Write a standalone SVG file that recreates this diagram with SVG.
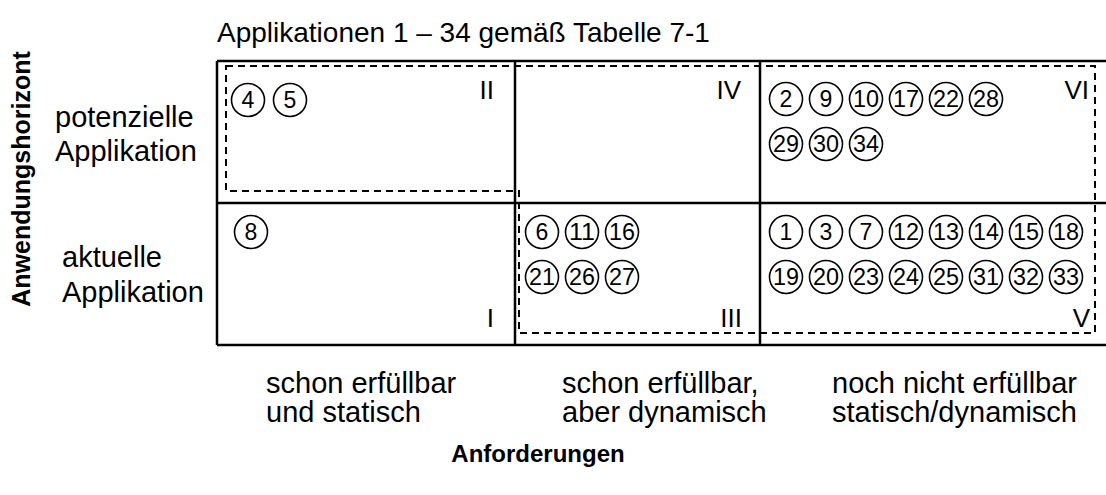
<svg xmlns="http://www.w3.org/2000/svg" width="1106" height="495" viewBox="0 0 1106 495">
<style>
text{font-family:"Liberation Sans",Arial,sans-serif;fill:#000}
.t{font-size:29px}
.h{font-size:28px}
.r{font-size:26px;text-anchor:end}
.b{font-size:24px;font-weight:bold}
.v{font-size:25px;font-weight:bold}
.n{font-size:23px;text-anchor:middle}
.c{fill:none;stroke:#000;stroke-width:1.6}
.g{stroke:#000;stroke-width:2.5;fill:none}
.d{stroke:#000;stroke-width:2;fill:none;stroke-dasharray:7,5}
</style>
<rect width="1106" height="495" fill="#fff"/>
<g id="grid">
<line class="g" x1="217" y1="61" x2="1106" y2="61"/>
<line class="g" x1="217" y1="203" x2="1106" y2="203"/>
<line class="g" x1="217" y1="345" x2="1106" y2="345"/>
<line class="g" x1="217" y1="61" x2="217" y2="345"/>
<line class="g" x1="515" y1="61" x2="515" y2="345"/>
<line class="g" x1="760" y1="61" x2="760" y2="345"/>
</g>
<g id="connectors">
<path class="d" d="M226,66 H1095 V333 H519 V191 H226 Z"/>
</g>
<text class="h" x="217" y="42">Applikationen 1 – 34 gemäß Tabelle 7-1</text>
<text class="v" transform="translate(30,179) rotate(-90)" text-anchor="middle">Anwendungshorizont</text>
<text class="t" x="55" y="127">potenzielle</text>
<text class="t" x="55" y="161">Applikation</text>
<text class="t" x="62" y="267">aktuelle</text>
<text class="t" x="62" y="302">Applikation</text>
<text class="t" x="266" y="393">schon erfüllbar</text>
<text class="t" x="266" y="422">und statisch</text>
<text class="t" x="562" y="393">schon erfüllbar,</text>
<text class="t" x="562" y="422">aber dynamisch</text>
<text class="t" x="832" y="393">noch nicht erfüllbar</text>
<text class="t" x="832" y="422">statisch/dynamisch</text>
<text class="b" x="538" y="462" text-anchor="middle">Anforderungen</text>
<g id="cell-II">
<text class="r" x="494" y="99">II</text>
<g transform="translate(248,100)"><circle class="c" r="16.5"/><text class="n" y="8">4</text></g>
<g transform="translate(290,100)"><circle class="c" r="16.5"/><text class="n" y="8">5</text></g>
</g>
<g id="cell-IV">
<text class="r" x="741" y="99">IV</text>
</g>
<g id="cell-VI">
<text class="r" x="1089" y="99">VI</text>
<g transform="translate(786,99)"><circle class="c" r="16.5"/><text class="n" y="8">2</text></g>
<g transform="translate(826,99)"><circle class="c" r="16.5"/><text class="n" y="8">9</text></g>
<g transform="translate(866,99)"><circle class="c" r="16.5"/><text class="n" y="8" textLength="26" lengthAdjust="spacingAndGlyphs">10</text></g>
<g transform="translate(906,99)"><circle class="c" r="16.5"/><text class="n" y="8" textLength="26" lengthAdjust="spacingAndGlyphs">17</text></g>
<g transform="translate(946,99)"><circle class="c" r="16.5"/><text class="n" y="8" textLength="26" lengthAdjust="spacingAndGlyphs">22</text></g>
<g transform="translate(986,99)"><circle class="c" r="16.5"/><text class="n" y="8" textLength="26" lengthAdjust="spacingAndGlyphs">28</text></g>
<g transform="translate(786,144)"><circle class="c" r="16.5"/><text class="n" y="8" textLength="26" lengthAdjust="spacingAndGlyphs">29</text></g>
<g transform="translate(826,144)"><circle class="c" r="16.5"/><text class="n" y="8" textLength="26" lengthAdjust="spacingAndGlyphs">30</text></g>
<g transform="translate(866,144)"><circle class="c" r="16.5"/><text class="n" y="8" textLength="26" lengthAdjust="spacingAndGlyphs">34</text></g>
</g>
<g id="cell-I">
<text class="r" x="494" y="327">I</text>
<g transform="translate(251,232)"><circle class="c" r="16.5"/><text class="n" y="8">8</text></g>
</g>
<g id="cell-III">
<text class="r" x="742" y="327">III</text>
<g transform="translate(542,232)"><circle class="c" r="16.5"/><text class="n" y="8">6</text></g>
<g transform="translate(582,232)"><circle class="c" r="16.5"/><text class="n" y="8" textLength="26" lengthAdjust="spacingAndGlyphs">11</text></g>
<g transform="translate(622,232)"><circle class="c" r="16.5"/><text class="n" y="8" textLength="26" lengthAdjust="spacingAndGlyphs">16</text></g>
<g transform="translate(542,277)"><circle class="c" r="16.5"/><text class="n" y="8" textLength="26" lengthAdjust="spacingAndGlyphs">21</text></g>
<g transform="translate(582,277)"><circle class="c" r="16.5"/><text class="n" y="8" textLength="26" lengthAdjust="spacingAndGlyphs">26</text></g>
<g transform="translate(622,277)"><circle class="c" r="16.5"/><text class="n" y="8" textLength="26" lengthAdjust="spacingAndGlyphs">27</text></g>
</g>
<g id="cell-V">
<text class="r" x="1090" y="327">V</text>
<g transform="translate(786,232)"><circle class="c" r="16.5"/><text class="n" y="8">1</text></g>
<g transform="translate(826,232)"><circle class="c" r="16.5"/><text class="n" y="8">3</text></g>
<g transform="translate(866,232)"><circle class="c" r="16.5"/><text class="n" y="8">7</text></g>
<g transform="translate(906,232)"><circle class="c" r="16.5"/><text class="n" y="8" textLength="26" lengthAdjust="spacingAndGlyphs">12</text></g>
<g transform="translate(946,232)"><circle class="c" r="16.5"/><text class="n" y="8" textLength="26" lengthAdjust="spacingAndGlyphs">13</text></g>
<g transform="translate(986,232)"><circle class="c" r="16.5"/><text class="n" y="8" textLength="26" lengthAdjust="spacingAndGlyphs">14</text></g>
<g transform="translate(1026,232)"><circle class="c" r="16.5"/><text class="n" y="8" textLength="26" lengthAdjust="spacingAndGlyphs">15</text></g>
<g transform="translate(1066,232)"><circle class="c" r="16.5"/><text class="n" y="8" textLength="26" lengthAdjust="spacingAndGlyphs">18</text></g>
<g transform="translate(786,277)"><circle class="c" r="16.5"/><text class="n" y="8" textLength="26" lengthAdjust="spacingAndGlyphs">19</text></g>
<g transform="translate(826,277)"><circle class="c" r="16.5"/><text class="n" y="8" textLength="26" lengthAdjust="spacingAndGlyphs">20</text></g>
<g transform="translate(866,277)"><circle class="c" r="16.5"/><text class="n" y="8" textLength="26" lengthAdjust="spacingAndGlyphs">23</text></g>
<g transform="translate(906,277)"><circle class="c" r="16.5"/><text class="n" y="8" textLength="26" lengthAdjust="spacingAndGlyphs">24</text></g>
<g transform="translate(946,277)"><circle class="c" r="16.5"/><text class="n" y="8" textLength="26" lengthAdjust="spacingAndGlyphs">25</text></g>
<g transform="translate(986,277)"><circle class="c" r="16.5"/><text class="n" y="8" textLength="26" lengthAdjust="spacingAndGlyphs">31</text></g>
<g transform="translate(1026,277)"><circle class="c" r="16.5"/><text class="n" y="8" textLength="26" lengthAdjust="spacingAndGlyphs">32</text></g>
<g transform="translate(1066,277)"><circle class="c" r="16.5"/><text class="n" y="8" textLength="26" lengthAdjust="spacingAndGlyphs">33</text></g>
</g>
</svg>
